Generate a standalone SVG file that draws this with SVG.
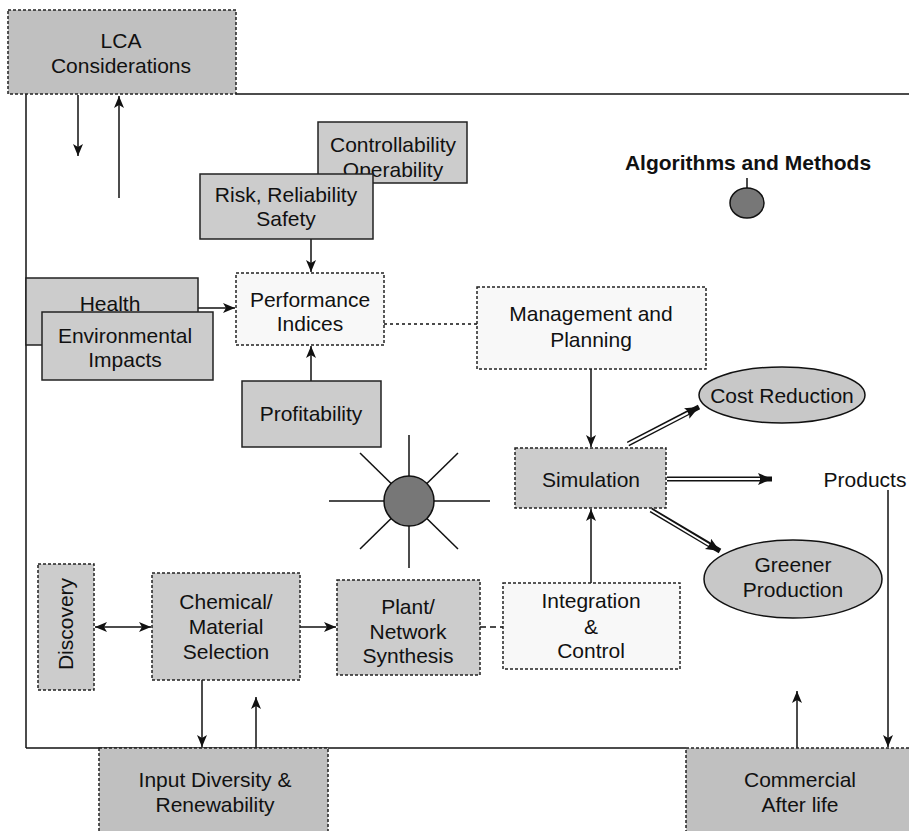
<svg xmlns="http://www.w3.org/2000/svg" width="909" height="831" viewBox="0 0 909 831">
<style>
text{font-family:"Liberation Sans",Arial,sans-serif;font-size:21px;fill:#111;text-anchor:middle}
.b{font-weight:bold;font-size:21px}
.dk{fill:#c0c0c0;stroke:#222;stroke-width:1.5;stroke-dasharray:3,2}
.gd{fill:#cccccc;stroke:#222;stroke-width:1.5;stroke-dasharray:3,2}
.lt{fill:#f8f8f8;stroke:#222;stroke-width:1.5;stroke-dasharray:3,2}
.sol{fill:#cccccc;stroke:#222;stroke-width:1.5}
.ell{fill:#c8c8c8;stroke:#111;stroke-width:1.5}
.ln{stroke:#111;stroke-width:1.5;fill:none}
.dbl{stroke:#111;stroke-width:5;fill:none}
.wh{stroke:#fff;stroke-width:2;fill:none}
</style>
<defs>
<marker id="ah" markerUnits="userSpaceOnUse" markerWidth="14" markerHeight="12" refX="12" refY="5" orient="auto-start-reverse">
<path d="M0,0 L12,5 L0,10 L3,5 z" fill="#111"/>
</marker>
<marker id="ah2" markerUnits="userSpaceOnUse" markerWidth="16" markerHeight="14" refX="14" refY="6" orient="auto">
<path d="M0,0 L14,6 L0,12 L3,6 z" fill="#111"/>
</marker>
</defs>
<g id="frame">
<line class="ln" x1="236" y1="94" x2="909" y2="94"/>
<line class="ln" x1="26" y1="94" x2="26" y2="748"/>
<line class="ln" x1="26" y1="748" x2="686" y2="748"/>
</g>
<g id="connectors">
<line class="ln" x1="78" y1="95" x2="78" y2="156" marker-end="url(#ah)"/>
<line class="ln" x1="119" y1="198" x2="119" y2="96" marker-end="url(#ah)"/>
<line class="ln" x1="311" y1="239" x2="311" y2="272" marker-end="url(#ah)"/>
<line class="ln" x1="198" y1="308" x2="235" y2="308" marker-end="url(#ah)"/>
<line class="ln" x1="311" y1="381" x2="311" y2="346" marker-end="url(#ah)"/>
<line class="ln" x1="384" y1="324" x2="477" y2="324" stroke-dasharray="3,3"/>
<line class="ln" x1="591" y1="369" x2="591" y2="447" marker-end="url(#ah)"/>
<line class="ln" x1="591" y1="583" x2="591" y2="509" marker-end="url(#ah)"/>
<line class="ln" x1="95" y1="627" x2="151" y2="627" marker-start="url(#ah)" marker-end="url(#ah)"/>
<line class="ln" x1="300" y1="627" x2="336" y2="627" marker-end="url(#ah)"/>
<line class="ln" x1="480" y1="627" x2="527" y2="627" stroke-dasharray="6,4"/>
<line class="ln" x1="202" y1="680" x2="202" y2="747" marker-end="url(#ah)"/>
<line class="ln" x1="256" y1="748" x2="256" y2="697" marker-end="url(#ah)"/>
<line class="ln" x1="797" y1="748" x2="797" y2="691" marker-end="url(#ah)"/>
<line class="ln" x1="888" y1="490" x2="888" y2="747" marker-end="url(#ah)"/>
<line class="ln" x1="747" y1="178" x2="747" y2="188" stroke="#666"/>
<line class="dbl" x1="628" y1="444" x2="699" y2="407" marker-end="url(#ah2)"/>
<line class="wh" x1="626" y1="445" x2="688" y2="413"/>
<line class="dbl" x1="667" y1="479" x2="772" y2="479" marker-end="url(#ah2)"/>
<line class="wh" x1="666" y1="479" x2="760" y2="479"/>
<line class="dbl" x1="651" y1="510" x2="720" y2="551" marker-end="url(#ah2)"/>
<line class="wh" x1="649" y1="509" x2="709" y2="545"/>
</g>
<g id="sun">
<g class="ln">
<line x1="329" y1="501" x2="490" y2="501"/>
<line x1="409" y1="435" x2="409" y2="568"/>
<line x1="360" y1="453" x2="458" y2="549"/>
<line x1="458" y1="453" x2="360" y2="549"/>
</g>
<circle cx="409" cy="501" r="25" fill="#777" stroke="#111" stroke-width="1.5"/>
</g>
<g id="lca"><rect class="dk" x="8" y="10" width="228" height="84"/><text x="121" y="48">LCA</text><text x="121" y="73">Considerations</text></g>
<g id="controllability"><rect class="sol" x="318" y="122" width="149" height="61"/><text x="393" y="152">Controllability</text><text x="393" y="177">Operability</text></g>
<g id="risk"><rect class="sol" x="200" y="174" width="173" height="65"/><text x="286" y="202">Risk, Reliability</text><text x="286" y="226">Safety</text></g>
<g id="health"><rect class="sol" x="26" y="278" width="172" height="67"/><text x="110" y="311">Health</text></g>
<g id="environmental"><rect class="sol" x="42" y="312" width="171" height="68"/><text x="125" y="343">Environmental</text><text x="125" y="367">Impacts</text></g>
<g id="performance"><rect class="lt" x="236" y="273" width="148" height="72"/><text x="310" y="307">Performance</text><text x="310" y="331">Indices</text></g>
<g id="management"><rect class="lt" x="477" y="287" width="229" height="82"/><text x="591" y="321">Management and</text><text x="591" y="347">Planning</text></g>
<g id="profitability"><rect class="sol" x="242" y="381" width="139" height="66"/><text x="311" y="421">Profitability</text></g>
<g id="algorithms"><text class="b" x="748" y="170">Algorithms and Methods</text><ellipse cx="747" cy="203" rx="17" ry="15" fill="#777" stroke="#111" stroke-width="1.5"/></g>
<g id="simulation"><rect class="gd" x="515" y="448" width="151" height="60"/><text x="591" y="487">Simulation</text></g>
<g id="cost"><ellipse class="ell" cx="782" cy="395" rx="83" ry="28"/><text x="782" y="403">Cost Reduction</text></g>
<g id="products"><text x="865" y="487">Products</text></g>
<g id="greener"><ellipse class="ell" cx="793" cy="579" rx="89" ry="39"/><text x="793" y="572">Greener</text><text x="793" y="597">Production</text></g>
<g id="discovery"><rect class="gd" x="38" y="564" width="56" height="126"/><text transform="translate(73,624) rotate(-90)" x="0" y="0">Discovery</text></g>
<g id="chemical"><rect class="gd" x="152" y="573" width="148" height="107"/><text x="226" y="609">Chemical/</text><text x="226" y="634">Material</text><text x="226" y="659">Selection</text></g>
<g id="plant"><rect class="gd" x="337" y="580" width="143" height="95"/><text x="408" y="614">Plant/</text><text x="408" y="639">Network</text><text x="408" y="663">Synthesis</text></g>
<g id="integration"><rect class="lt" x="503" y="583" width="177" height="86"/><text x="591" y="608">Integration</text><text x="591" y="634">&amp;</text><text x="591" y="658">Control</text></g>
<g id="input"><rect class="dk" x="99" y="748" width="229" height="90"/><text x="215" y="787">Input Diversity &amp;</text><text x="215" y="812">Renewability</text></g>
<g id="commercial"><rect class="dk" x="686" y="748" width="230" height="90"/><text x="800" y="787">Commercial</text><text x="800" y="812">After life</text></g>
</svg>
